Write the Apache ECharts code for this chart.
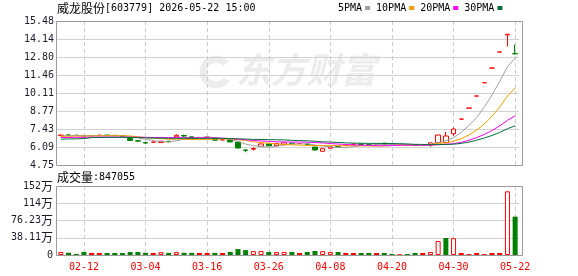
<!DOCTYPE html>
<html>
<head>
<meta charset="utf-8">
<script src="https://cdn.jsdelivr.net/npm/echarts@6/dist/echarts.min.js"></script>
<style>
html,body{margin:0;padding:0;background:#fff}
#chart{width:578px;height:276px}
</style>
</head>
<body>
<div id="chart"></div>
<script>
// 交易日
var dates = ['02-09','02-10','02-11','02-12','02-13','02-24','02-25','02-26','02-27','03-02',
             '03-03','03-04','03-05','03-06','03-09','03-10','03-11','03-12','03-13','03-16',
             '03-17','03-18','03-19','03-20','03-23','03-24','03-25','03-26','03-27','03-30',
             '03-31','04-01','04-02','04-03','04-07','04-08','04-09','04-10','04-13','04-14',
             '04-15','04-16','04-17','04-20','04-21','04-22','04-23','04-24','04-27','04-28',
             '04-29','04-30','05-13','05-14','05-15','05-18','05-19','05-20','05-21','05-22'];
var opens = [6.94,6.99,6.97,6.95,6.93,6.96,6.98,6.96,6.94,6.72,
             6.56,6.42,6.45,6.42,6.52,6.84,6.94,6.85,6.80,6.82,
             6.76,6.62,6.64,6.46,5.87,5.93,6.14,6.32,6.19,6.26,
             6.38,6.35,6.32,6.09,5.77,6.00,6.12,6.20,6.30,6.32,
             6.28,6.30,6.38,6.29,6.27,6.27,6.25,6.24,6.24,6.41,
             6.41,7.08,8.17,8.99,9.89,10.88,11.97,13.17,14.45,13.04];
var closes = [6.98,6.96,6.95,6.91,6.93,6.96,6.95,6.94,6.90,6.58,
              6.53,6.39,6.45,6.52,6.48,6.97,6.91,6.75,6.80,6.82,
              6.60,6.62,6.47,6.02,5.84,5.98,6.32,6.18,6.36,6.40,
              6.33,6.35,6.27,5.87,5.97,6.10,6.08,6.20,6.30,6.28,
              6.26,6.30,6.29,6.26,6.27,6.25,6.22,6.24,6.40,6.98,
              6.91,7.43,8.17,8.99,9.89,10.88,11.97,13.17,14.49,13.04];
var lows = [6.92,6.92,6.93,6.89,6.90,6.92,6.93,6.92,6.88,6.56,
            6.46,6.34,6.40,6.40,6.45,6.82,6.86,6.74,6.78,6.80,
            6.58,6.60,6.45,5.99,5.70,5.82,6.12,6.14,6.17,6.24,
            6.30,6.33,6.25,5.82,5.75,5.98,6.06,6.18,6.28,6.27,
            6.25,6.29,6.28,6.25,6.26,6.24,6.21,6.23,6.12,6.40,
            6.40,6.93,8.17,8.99,9.89,10.88,11.97,13.17,13.58,13.04];
var highs = [7.00,7.04,6.98,6.96,6.95,7.00,6.99,6.97,6.95,6.74,
             6.60,6.46,6.50,6.53,6.54,7.03,7.00,6.86,6.84,6.84,
             6.78,6.64,6.66,6.47,5.92,6.06,6.33,6.34,6.38,6.42,
             6.40,6.37,6.34,6.10,5.99,6.12,6.13,6.22,6.31,6.33,
             6.29,6.32,6.39,6.30,6.28,6.28,6.26,6.25,6.42,7.00,
             7.21,7.55,8.17,8.99,9.89,10.88,11.97,13.17,14.49,13.72];
var prevClose0 = 6.93;
// 成交量(万)
var volumes = [6.5,5.0,2.5,6.8,4.6,4.4,4.5,4.6,4.3,6.5,
               6.6,4.8,4.5,6.2,4.6,6.4,4.8,4.7,4.5,4.6,
               4.7,4.4,6.9,13.0,10.8,8.6,8.9,6.6,6.4,6.8,
               6.7,4.5,6.6,8.8,8.5,6.5,6.6,4.6,4.4,4.5,
               4.6,4.4,4.5,2.3,1.6,2.2,4.6,4.5,6.6,31.0,
               37.6,37.2,4.4,2.0,4.4,1.9,4.4,4.5,140.7,84.7055];
var ma5 = [6.92,6.94,6.95,6.95,6.95,6.94,6.94,6.94,6.94,6.87,
           6.78,6.67,6.57,6.49,6.47,6.56,6.67,6.73,6.78,6.85,
           6.78,6.72,6.66,6.51,6.31,6.19,6.13,6.07,6.14,6.25,
           6.32,6.32,6.34,6.24,6.16,6.11,6.06,6.04,6.13,6.19,
           6.22,6.27,6.29,6.28,6.28,6.27,6.26,6.25,6.28,6.42,
           6.55,6.79,7.18,7.70,8.28,9.07,9.98,10.98,12.08,12.71];
var ma10 = [6.88,6.89,6.90,6.90,6.91,6.92,6.93,6.93,6.93,6.91,
            6.86,6.80,6.75,6.72,6.67,6.67,6.67,6.65,6.64,6.66,
            6.67,6.69,6.69,6.64,6.58,6.48,6.42,6.37,6.32,6.28,
            6.25,6.23,6.21,6.19,6.20,6.22,6.19,6.19,6.19,6.18,
            6.17,6.16,6.17,6.20,6.23,6.25,6.26,6.27,6.28,6.35,
            6.41,6.53,6.71,6.99,7.35,7.81,8.39,9.08,9.89,10.49];
var ma20 = [6.80,6.80,6.81,6.81,6.82,6.83,6.83,6.83,6.83,6.82,
            6.82,6.81,6.80,6.80,6.79,6.79,6.79,6.78,6.78,6.78,
            6.77,6.75,6.72,6.68,6.63,6.58,6.54,6.51,6.48,6.47,
            6.46,6.46,6.45,6.42,6.39,6.35,6.31,6.28,6.25,6.23,
            6.21,6.19,6.19,6.20,6.22,6.23,6.23,6.23,6.23,6.26,
            6.29,6.34,6.44,6.60,6.79,7.03,7.32,7.67,8.08,8.42];
var ma30 = [6.68,6.69,6.70,6.72,6.79,6.80,6.81,6.81,6.81,6.80,
            6.79,6.77,6.76,6.75,6.74,6.74,6.74,6.74,6.74,6.74,
            6.74,6.73,6.72,6.70,6.68,6.66,6.65,6.64,6.63,6.62,
            6.59,6.57,6.55,6.52,6.48,6.46,6.43,6.40,6.38,6.37,
            6.36,6.36,6.35,6.35,6.34,6.32,6.29,6.28,6.26,6.27,
            6.28,6.30,6.36,6.46,6.60,6.76,6.95,7.18,7.45,7.67];
var priceTicks = [4.75,6.09,7.43,8.77,10.11,11.46,12.80,14.14,15.48];
var volTicks = [0,38.11,76.23,114.34,152.45];
var volTickLabels = ['0','38.11万','76.23万','114万','152万'];

var RED = '#ff0000', GREEN = '#008000';
var latin = 'DejaVu Sans Mono';
var cjk = 'Noto Sans CJK SC';

// K线: 阳线空心红, 阴线实心绿, 一字线按涨跌定色
var kData = dates.map(function(d, i){
    var pc = i > 0 ? closes[i-1] : prevClose0;
    var item = {value: [opens[i], closes[i], lows[i], highs[i]]};
    if (opens[i] === closes[i]) {
        var c = closes[i] >= pc ? RED : GREEN;
        item.itemStyle = {color: c, color0: c, borderColor: c, borderColor0: c, borderColorDoji: c};
    }
    return item;
});
// 成交量柱: 颜色按涨跌, 阳线空心
var volData = volumes.map(function(v, i){
    var pc = i > 0 ? closes[i-1] : prevClose0;
    var up = closes[i] >= pc;
    var st;
    if (!up) st = {color: GREEN};
    else if (closes[i] > opens[i]) st = {color: '#fff', borderColor: RED, borderWidth: 1};
    else st = {color: RED};
    return {value: v, itemStyle: st};
});

function showTick(i){ return (i - 3) % 8 === 0; }
function maSeries(name, data, color){
    return {
        name: name, type: 'line', xAxisIndex: 0, yAxisIndex: 0, data: data,
        showSymbol: false, symbol: 'none', color: color,
        lineStyle: {width: 1, color: color}, z: 3
    };
}
function volLabel(v){
    var k = 0;
    for (var j = 0; j < volTicks.length; j++) if (Math.abs(volTicks[j] - v) < 0.01) k = j;
    var s = volTickLabels[k];
    return s.indexOf('万') >= 0 ? '{n|' + s.replace('万','') + '}{w|万}' : '{n|' + s + '}';
}

var chart = echarts.init(document.getElementById('chart'));
var splitV = {show: true, interval: function(i){ return showTick(i); }, alignWithLabel: true,
              lineStyle: {color: '#cccccc', type: [4, 3], width: 1}};
chart.setOption({
    animation: false,
    backgroundColor: '#fff',
    legend: {
        data: ['5PMA','10PMA','20PMA','30PMA'],
        left: 338, top: 3, align: 'right', icon: 'rect',
        itemWidth: 5, itemHeight: 4, itemGap: 6, selectedMode: false, padding: 0,
        textStyle: {fontFamily: latin, fontSize: 10, color: '#000', padding: [0, -2, 0, 0]}
    },
    grid: [
        {left: 57, top: 21, width: 462, height: 144},
        {left: 57, top: 186, width: 462, height: 69}
    ],
    xAxis: [
        {type: 'category', gridIndex: 0, data: dates, boundaryGap: true,
         axisLine: {show: false}, axisTick: {show: false},
         axisLabel: {show: false, interval: function(i){ return showTick(i); }},
         splitLine: splitV},
        {type: 'category', gridIndex: 1, data: dates, boundaryGap: true,
         axisLine: {show: false}, axisTick: {show: false},
         axisLabel: {show: true, interval: function(i){ return showTick(i); }, color: RED,
                     fontFamily: latin, fontSize: 10, margin: 7},
         splitLine: splitV}
    ],
    yAxis: [
        {type: 'value', gridIndex: 0, min: 4.75, max: 15.48,
         axisLine: {show: false},
         axisTick: {show: false, customValues: priceTicks},
         axisLabel: {customValues: priceTicks, color: '#1a1a2a', fontFamily: latin, fontSize: 10, margin: 3,
                     formatter: function(v){ return v.toFixed(2); }},
         splitLine: {lineStyle: {color: '#d2d2d2', width: 1}}},
        {type: 'value', gridIndex: 1, min: 0, max: 152.45,
         axisLine: {show: false},
         axisTick: {show: false, customValues: volTicks},
         axisLabel: {customValues: volTicks, margin: 4, formatter: volLabel,
                     rich: {n: {fontFamily: latin, fontSize: 10, color: '#1a1a2a'},
                            w: {fontFamily: cjk, fontSize: 12, color: '#1a1a2a'}}},
         splitLine: {lineStyle: {color: '#d2d2d2', width: 1}}}
    ],
    graphic: [
        {type: 'arc', silent: true, z: 0,
         shape: {cx: 216, cy: 72, r: 13, startAngle: 0.6, endAngle: 5.6},
         style: {fill: null, stroke: '#ececec', lineWidth: 7}},
        {type: 'text', left: 236, top: 52, z: 0, silent: true,
         style: {text: '东方财富', font: 'italic bold 35px "Noto Sans CJK SC"', fill: '#ececec'}},
        {type: 'text', left: 57, top: 2, silent: true,
         style: {text: '{c|威龙股份}{l|[603779] 2026-05-22 15:00}',
                 rich: {c: {fontFamily: cjk, fontSize: 12, fill: '#000'},
                        l: {fontFamily: latin, fontSize: 10, fill: '#000'}}}},
        {type: 'text', left: 57, top: 171, silent: true,
         style: {text: '{c|成交量}{l|:847055}',
                 rich: {c: {fontFamily: cjk, fontSize: 12, fill: '#000'},
                        l: {fontFamily: latin, fontSize: 10, fill: '#000'}}}},
        {type: 'rect', silent: true, z: 10, shape: {x: 56.5, y: 21.5, width: 466, height: 144},
         style: {fill: null, stroke: '#999999', lineWidth: 1}},
        {type: 'rect', silent: true, z: 10, shape: {x: 56.5, y: 186.5, width: 466, height: 69},
         style: {fill: null, stroke: '#999999', lineWidth: 1}}
    ],
    series: [
        {name: 'K', type: 'candlestick', xAxisIndex: 0, yAxisIndex: 0, data: kData, barWidth: 5, z: 2,
         itemStyle: {color: '#ffffff', color0: GREEN, borderColor: RED, borderColor0: GREEN, borderWidth: 1}},
        maSeries('5PMA', ma5, '#a0a0a0'),
        maSeries('10PMA', ma10, '#f0a000'),
        maSeries('20PMA', ma20, '#ff00ff'),
        maSeries('30PMA', ma30, '#006f3c'),
        {name: '成交量', type: 'bar', xAxisIndex: 1, yAxisIndex: 1, data: volData, barWidth: 5}
    ]
});
</script>
</body>
</html>
